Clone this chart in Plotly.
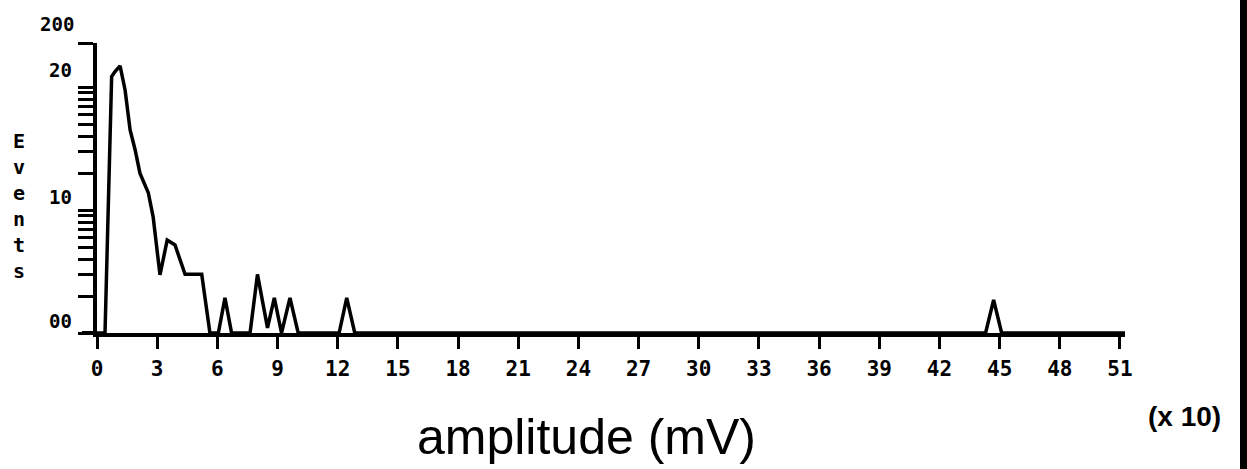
import numpy as np
import plotly.graph_objects as go

# amplitude (x 10 mV) and event counts (log axis; 1 = drawn on baseline)
amplitude = [0.0, 0.4, 0.73, 0.9, 1.15, 1.4, 1.65, 1.9, 2.14, 2.56, 2.8, 3.0, 3.14, 3.5, 3.89,
             4.39, 5.22, 5.63, 6.05, 6.38, 6.71, 7.63, 8.0, 8.5, 8.84, 9.2, 9.62, 10.03,
             12.07, 12.45, 12.85, 44.3, 44.7, 45.1, 51.25]
events = [1, 1, 122, 134, 149, 95, 45, 31, 20, 13.8, 8.8, 4.5, 2.97, 5.7, 5.2,
          3, 3, 1, 1, 1.93, 1, 1, 3, 1.1, 1.93, 1, 1.93, 1,
          1, 1.93, 1, 1, 1.86, 1, 1]

x_ticks = list(range(0, 52, 3))
y_minor = [1, 2, 3, 4, 5, 6, 7, 8, 9, 10, 20, 30, 40, 50, 60, 70, 80, 90, 100]
y_top_log = 2.36
y_labels = ["200", "20", "10", "00"]

W, H = 1247, 469
L, R, T, B = 97, 122, 43, 136
pw, ph = W - L - R, H - T - B

def px2paper_x(px):
    return (px - L) / pw

def py2paper_y(py):
    return (H - B - py) / ph

mono = "DejaVu Sans Mono"

fig = go.Figure()
fig.add_trace(go.Scatter(x=amplitude, y=events, mode="lines",
                         line=dict(color="black", width=3.5), hoverinfo="skip",
                         showlegend=False))

fig.update_layout(
    width=W, height=H, margin=dict(l=L, r=R, t=T, b=B),
    paper_bgcolor="white", plot_bgcolor="white", showlegend=False,
    xaxis=dict(range=[0, 51.25], tickvals=x_ticks, ticktext=[str(v) for v in x_ticks],
               showgrid=False, zeroline=False, showline=True, linecolor="black", linewidth=4,
               ticks="outside", ticklen=12, tickwidth=3, tickcolor="black",
               ticklabelstandoff=2,
               tickfont=dict(family=mono, size=21, color="black", weight="bold")),
    yaxis=dict(type="log", range=[0, y_top_log],
               tickvals=y_minor + [10 ** y_top_log], showticklabels=False,
               showgrid=False, zeroline=False, showline=True, linecolor="black", linewidth=4,
               ticks="outside", ticklen=15, tickwidth=3, tickcolor="black"),
)

# left stub of the x axis line (extends past the y axis)
fig.add_shape(type="line", xref="paper", yref="paper", x0=px2paper_x(82), x1=0, y0=0, y1=0,
              line=dict(color="black", width=4))
# scanned page border at right
fig.add_shape(type="rect", xref="paper", yref="paper", x0=px2paper_x(1240), x1=px2paper_x(1250),
              y0=py2paper_y(475), y1=py2paper_y(-5), fillcolor="black", line=dict(width=0))

label_pos = [(57, 24), (60, 70), (60, 197), (60, 321)]
for txt, (px, py) in zip(y_labels, label_pos):
    fig.add_annotation(text=txt, xref="paper", yref="paper", x=px2paper_x(px), y=py2paper_y(py),
                       showarrow=False, xanchor="center", yanchor="middle",
                       font=dict(family=mono, size=19, color="black", weight="bold"))

fig.add_annotation(text="E<br>v<br>e<br>n<br>t<br>s", xref="paper", yref="paper",
                   x=px2paper_x(19), y=py2paper_y(206), showarrow=False,
                   xanchor="center", yanchor="middle", align="center",
                   font=dict(family=mono, size=20, color="black", weight="bold"))

fig.add_annotation(text="(x 10)", xref="paper", yref="paper",
                   x=px2paper_x(1184), y=py2paper_y(416), showarrow=False,
                   xanchor="center", yanchor="middle",
                   font=dict(family="Liberation Sans", size=28, color="black", weight="bold"))

fig.add_annotation(text="amplitude (mV)", xref="paper", yref="paper",
                   x=px2paper_x(586), y=py2paper_y(437), showarrow=False,
                   xanchor="center", yanchor="middle",
                   font=dict(family="Liberation Sans", size=50, color="black"))

fig.write_html("out.html")
